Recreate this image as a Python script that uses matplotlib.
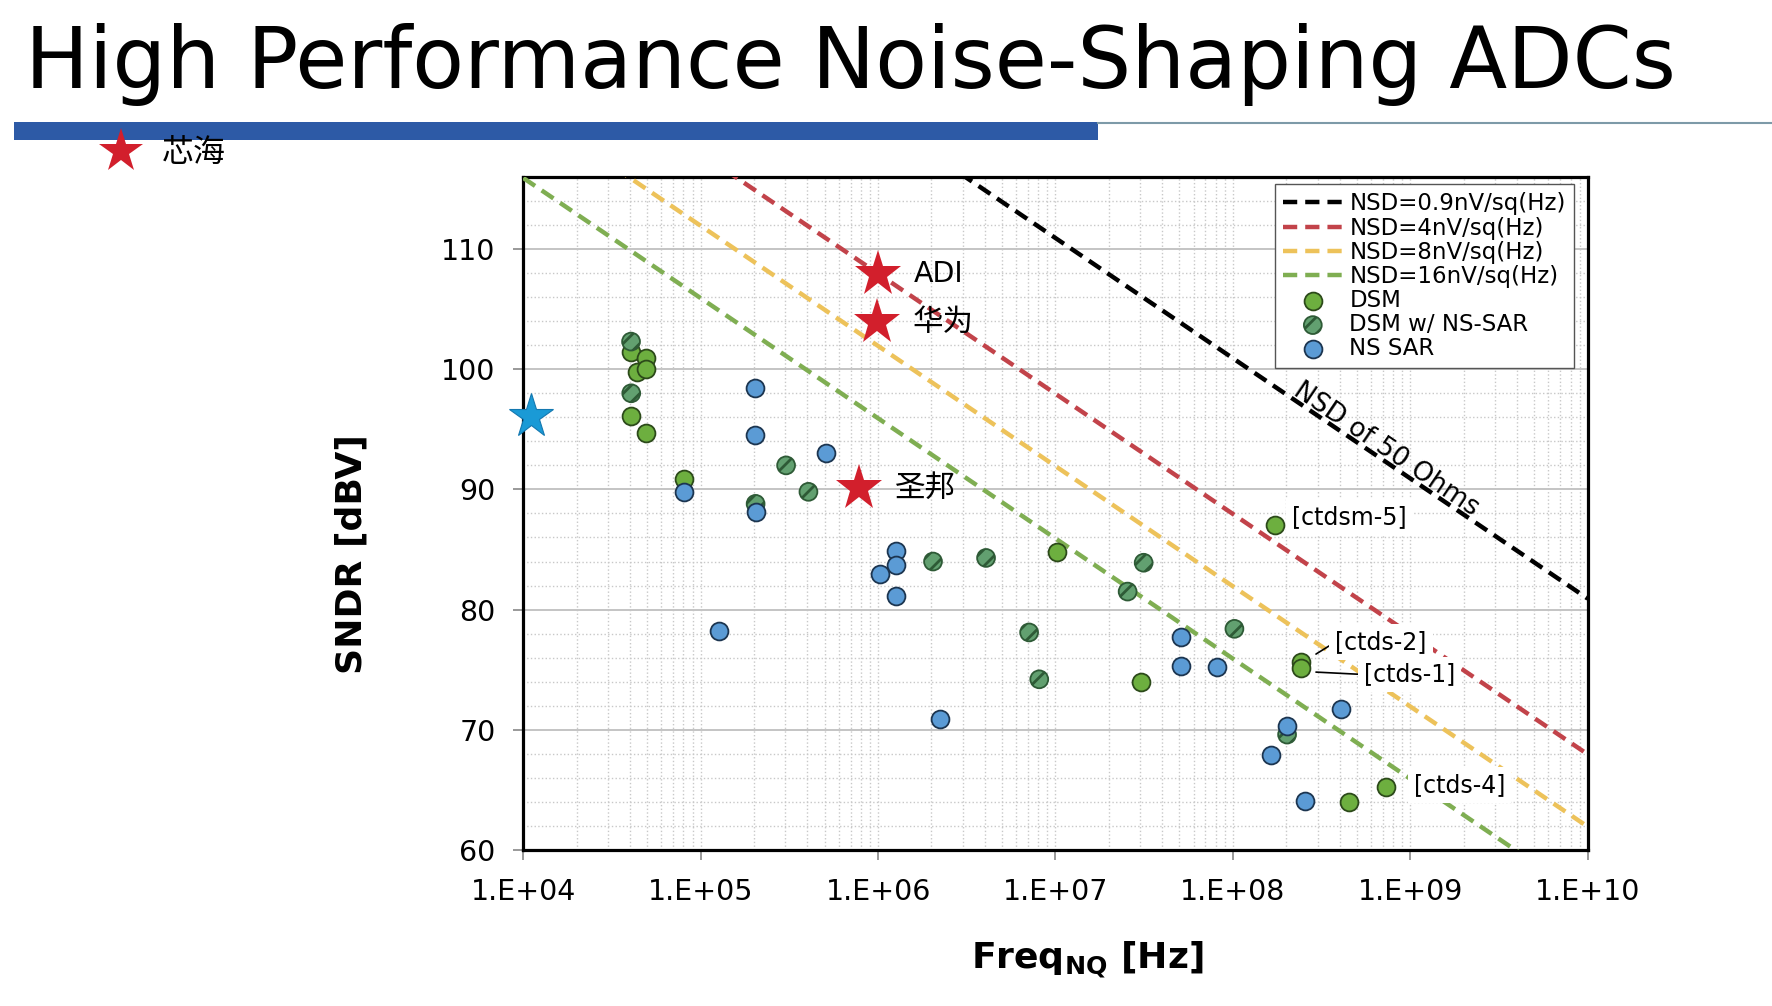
import numpy as np
import matplotlib
matplotlib.use("Agg")
import matplotlib.pyplot as plt
from matplotlib.lines import Line2D
from matplotlib.patches import Rectangle
from matplotlib.ticker import MultipleLocator, LogLocator, FuncFormatter, NullFormatter

# --- text ---
TITLE = "High Performance Noise-Shaping ADCs"
XLABEL = "Freq$_{\\mathbf{NQ}}$ [Hz]"
YLABEL = "SNDR [dBV]"

# --- NSD reference lines (V/sqrt(Hz), full scale 1 Vrms) ---
NSD_VALUES = [0.9e-9, 4e-9, 8e-9, 16e-9]
NSD_LABELS = ["NSD=0.9nV/sq(Hz)", "NSD=4nV/sq(Hz)", "NSD=8nV/sq(Hz)", "NSD=16nV/sq(Hz)"]
NSD_COLORS = ["#000000", "#C2434A", "#EDC25A", "#7FAE52"]

# --- published designs ---
DSM_FREQ = [4.04e4, 4.9e4, 4.4e4, 4.9e4, 4.06e4, 4.9e4, 8.1e4,
            1.02e7, 3.05e7, 1.72e8, 2.43e8, 2.43e8, 4.5e8, 7.3e8]
DSM_SNDR = [101.4, 100.9, 99.8, 100.0, 96.1, 94.7, 90.9,
            84.8, 74.0, 87.0, 75.6, 75.1, 64.0, 65.2]

HYB_FREQ = [4.05e4, 4.06e4, 3.03e5, 4.05e5, 2.04e5, 2.04e6, 4.06e6,
            3.14e7, 2.55e7, 7.1e6, 8.1e6, 1.02e8, 2.02e8]
HYB_SNDR = [102.3, 98.0, 92.0, 89.8, 88.8, 84.0, 84.3,
            83.9, 81.5, 78.1, 74.2, 78.4, 69.6]

SAR_FREQ = [8.1e4, 2.03e5, 2.03e5, 5.1e5, 2.04e5, 1.27e5, 1.26e6, 1.26e6, 1.02e6,
            1.26e6, 2.22e6, 5.08e7, 5.08e7, 8.15e7, 4.07e8, 2.02e8, 1.63e8, 2.54e8]
SAR_SNDR = [89.8, 98.4, 94.5, 93.0, 88.1, 78.2, 84.9, 83.7, 83.0,
            81.1, 70.9, 77.7, 75.3, 75.2, 71.7, 70.3, 67.9, 64.1]

# --- highlighted vendors ---
STAR_NAMES = ["ADI", "华为", "圣邦"]
STAR_FREQ = [1.0e6, 0.98e6, 0.78e6]
STAR_SNDR = [107.9, 103.9, 90.1]
OWN_NAME = "芯海"
OWN_FREQ = 1.11e4
OWN_SNDR = 96.1

# --- reference tags: text, tag position, leader end (None = no leader) ---
TAG_TEXT = ["[ctdsm-5]", "[ctds-2]", "[ctds-1]", "[ctds-4]"]
TAG_FREQ = [2.16e8, 3.78e8, 5.47e8, 1.05e9]
TAG_SNDR = [87.7, 77.3, 74.6, 65.4]
LEAD_FREQ = [None, 2.94e8, 2.94e8, None]
LEAD_SNDR = [None, 76.3, 74.8, None]

X_MIN, X_MAX = 1e4, 1e10
Y_MIN, Y_MAX = 60, 116

plt.rcParams["font.family"] = ["DejaVu Sans", "Noto Sans CJK SC"]
plt.rcParams["hatch.color"] = "#2B5A33"
plt.rcParams["hatch.linewidth"] = 2.0

fig = plt.figure(figsize=(17.72, 10.06), dpi=100)
W, H = 1772.0, 1006.0

# header: title, blue bar, thin rule
fig.text(25 / W, 1 - 88 / H, TITLE, fontsize=61, ha="left", va="baseline")
fig.add_artist(Line2D([1098 / W, 1.0], [1 - 122.5 / H] * 2, transform=fig.transFigure,
                      color="#7D9AA8", lw=1.5))
fig.add_artist(Rectangle((13.6 / W, 1 - 140 / H), (1098 - 13.6) / W, 18 / H,
                         transform=fig.transFigure, color="#2D5AA6", lw=0))
fig.add_artist(Line2D([121 / W], [1 - 151 / H], transform=fig.transFigure,
                      marker="*", ms=33, color="#D21F2C", mew=0))
fig.text(162 / W, 1 - 153 / H, OWN_NAME, fontsize=23, ha="left", va="center")

ax = fig.add_axes([0.2953, 0.1551, 0.6007, 0.669])
ax.set_xscale("log")
ax.set_xlim(X_MIN, X_MAX)
ax.set_ylim(Y_MIN, Y_MAX)

# NSD lines: SNDR = -20log10(NSD) - 10log10(f)
f_line = np.logspace(np.log10(X_MIN), np.log10(X_MAX), 50)
line_handles = []
for nsd, lab, col in zip(NSD_VALUES, NSD_LABELS, NSD_COLORS):
    sndr = -20 * np.log10(nsd) - 10 * np.log10(f_line)
    h, = ax.plot(f_line, sndr, color=col, lw=3.2, ls=(0, (3.2, 1.8)), label=lab, zorder=3)
    line_handles.append(h)

s_dsm = ax.scatter(DSM_FREQ, DSM_SNDR, s=165, color="#6DAF3F", edgecolor="#2C4A1A",
                   lw=1.3, label="DSM", zorder=4)
s_hyb = ax.scatter(HYB_FREQ, HYB_SNDR, s=165, facecolor="#62A070", edgecolor="#2E5A36",
                   lw=1.3, hatch="//", label="DSM w/ NS-SAR", zorder=4)
s_sar = ax.scatter(SAR_FREQ, SAR_SNDR, s=165, color="#5B9BD5", edgecolor="#1C3550",
                   lw=1.3, label="NS SAR", zorder=4)

ax.plot(STAR_FREQ, STAR_SNDR, ls="none", marker="*", ms=35, color="#D21F2C", mew=0, zorder=5)
for name, f, v in zip(STAR_NAMES, STAR_FREQ, STAR_SNDR):
    ax.annotate(name, (f, v), xytext=(26, 0), textcoords="offset points",
                fontsize=22 if name != "ADI" else 20.5, ha="left", va="center", zorder=6)
ax.plot([OWN_FREQ], [OWN_SNDR], ls="none", marker="*", ms=33, color="#1A9AD6",
        mec="#1478B0", mew=0.8, clip_on=False, zorder=6)

for txt, f, v, lf, lv in zip(TAG_TEXT, TAG_FREQ, TAG_SNDR, LEAD_FREQ, LEAD_SNDR):
    box = dict(boxstyle="square,pad=0.25", fc="white", ec="none")
    if lf is None:
        ax.text(f, v, txt, fontsize=17, ha="left", va="center", bbox=box, zorder=3.5)
    else:
        ax.annotate(txt, (lf, lv), xytext=(f, v), fontsize=17, ha="left", va="center",
                    bbox=box, zorder=3.5,
                    arrowprops=dict(arrowstyle="-", color="black", lw=1.2,
                                    relpos=(0, 0.5), shrinkA=0, shrinkB=0))

# label along the 50 Ohm line
f_txt = 10 ** 8.84
v_txt = -20 * np.log10(NSD_VALUES[0]) - 10 * np.log10(f_txt)
p1 = ax.transData.transform((1e8, -20 * np.log10(NSD_VALUES[0]) - 80))
p2 = ax.transData.transform((1e9, -20 * np.log10(NSD_VALUES[0]) - 90))
angle = np.degrees(np.arctan2(p2[1] - p1[1], p2[0] - p1[0]))
ax.text(f_txt, v_txt + 0.3, "NSD of 50 Ohms", fontsize=19, rotation=angle,
        rotation_mode="anchor", ha="center", va="baseline", zorder=3)

# axes styling
ax.xaxis.set_major_locator(LogLocator(base=10, numticks=10))
ax.xaxis.set_minor_locator(LogLocator(base=10, subs=np.arange(2, 10), numticks=20))
ax.xaxis.set_minor_formatter(NullFormatter())
ax.xaxis.set_major_formatter(FuncFormatter(lambda v, p: f"1.E+{int(round(np.log10(v))):02d}"))
ax.yaxis.set_major_locator(MultipleLocator(10))
ax.yaxis.set_minor_locator(MultipleLocator(2))

ax.grid(which="major", axis="y", color="#C4C4C4", lw=1.4, ls="-")
ax.grid(which="minor", axis="y", color="#C8C8C8", lw=1.0, ls=":")
ax.grid(which="both", axis="x", color="#C8C8C8", lw=1.0, ls=":")
ax.set_axisbelow(True)

ax.tick_params(which="major", length=7, width=1.2, color="#888888", labelsize=20.5, pad=13)
ax.tick_params(which="minor", length=0)
for sp in ax.spines.values():
    sp.set_linewidth(2.3)
    sp.set_color("black")

ax.set_ylabel(YLABEL, fontsize=26, fontweight="bold")
ax.yaxis.set_label_coords(-0.145, 0.44)
ax.set_xlabel(XLABEL, fontsize=26, fontweight="bold")
ax.xaxis.set_label_coords(0.53, -0.133)

leg = ax.legend(handles=line_handles + [s_dsm, s_hyb, s_sar], loc="upper right",
                bbox_to_anchor=(0.987, 0.989), borderaxespad=0, fontsize=16.5,
                labelspacing=0.05, handlelength=2.6, handletextpad=0.3, borderpad=0.35,
                fancybox=False, framealpha=1, edgecolor="#555555", scatterpoints=1)
leg.get_frame().set_linewidth(1.0)
leg.set_zorder(7)

fig.savefig("out.png", dpi=100)
